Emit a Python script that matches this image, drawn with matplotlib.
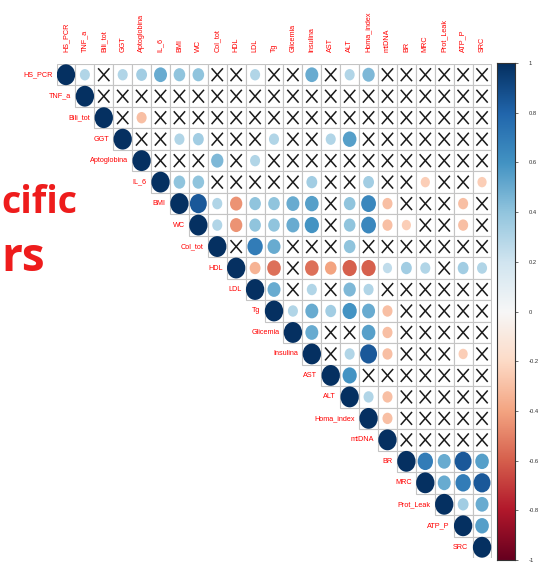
import matplotlib
matplotlib.use("Agg")
import matplotlib.pyplot as plt
from matplotlib.patches import Ellipse, Rectangle
import numpy as np

variables = ["HS_PCR", "TNF_a", "Bili_tot", "GGT", "Aptoglobina", "IL_6", "BMI", "WC",
             "Col_tot", "HDL", "LDL", "Tg", "Glicemia", "Insulina", "AST", "ALT",
             "Homa_index", "mtDNA", "BR", "MRC", "Prot_Leak", "ATP_P", "SRC"]

X = None  # non-significant cell (drawn as a cross)
# upper triangle, each row starts at the diagonal
corr_rows = [
    [1, .3, X, .3, .35, .5, .4, .4, X, X, .3, X, X, .5, X, .3, .45, X, X, X, X, X, X],
    [1] + [X] * 21,
    [1, X, -.3] + [X] * 18,
    [1, X, X, .3, .35, X, X, X, .3, X, X, .3, .55, X, X, X, X, X, X, X],
    [1, X, X, X, .45, X, .3, X] + [X] * 11,
    [1, .4, .4, X, X, X, X, X, .35, X, X, .35, X, X, -.25, X, X, -.25],
    [1, .85, .3, -.45, .4, .4, .5, .55, X, .4, .65, -.3, X, X, X, -.3, X],
    [1, .3, -.45, .4, .4, .5, .6, X, .4, .65, -.3, -.25, X, X, -.3, X],
    [1, X, .7, .5, X, X, X, .4, X] + [X] * 6,
    [1, -.35, -.55, X, -.55, -.4, -.6, -.6, .25, .35, .3, X, .35, .3],
    [1, .5, X, .3, X, .45, .3] + [X] * 6,
    [1, .3, .5, .35, .6, .5, -.3] + [X] * 5,
    [1, .5, X, X, .55, -.3] + [X] * 5,
    [1, X, .3, .85, -.3, X, X, X, -.25, X],
    [1, .6] + [X] * 7,
    [1, .3, -.3] + [X] * 5,
    [1, -.3] + [X] * 5,
    [1] + [X] * 5,
    [1, .7, .5, .85, .55],
    [1, .5, .7, .85],
    [1, .35, .5],
    [1, .55],
    [1],
]
cbar_ticks = [1, 0.8, 0.6, 0.4, 0.2, 0, -0.2, -0.4, -0.6, -0.8, -1]

W, H = 551, 565
fig = plt.figure(figsize=(W / 100, H / 100), dpi=100)
fig.patch.set_facecolor("white")
n = len(variables)
gx0, gx1, gy0, gy1 = 56.5, 491.5, 64, 558
ax = fig.add_axes([gx0 / W, 1 - gy1 / H, (gx1 - gx0) / W, (gy1 - gy0) / H])
ax.set_xlim(-0.5, n - 0.5)
ax.set_ylim(n - 0.5, -0.5)
ax.axis("off")
cmap = plt.get_cmap("RdBu")
norm = plt.Normalize(-1, 1)
label_font = dict(family=["Liberation Sans", "DejaVu Sans"], fontsize=5.2, color="red")

for i, row in enumerate(corr_rows):
    for k, v in enumerate(row):
        j = i + k
        ax.add_patch(Rectangle((j - 0.5, i - 0.5), 1, 1, facecolor="white",
                               edgecolor="#c4c4c4", lw=0.8, zorder=1))
        if v is None:
            ax.plot([j - 0.3, j + 0.3], [i - 0.3, i + 0.3], color="#1a1a1a", lw=1.1,
                    solid_capstyle="butt", zorder=3)
            ax.plot([j - 0.3, j + 0.3], [i + 0.3, i - 0.3], color="#1a1a1a", lw=1.1,
                    solid_capstyle="butt", zorder=3)
        else:
            r = 0.5 * np.sqrt(abs(v)) * 0.97
            ax.add_patch(Ellipse((j, i), 2 * r, 2 * r, facecolor=cmap(norm(v)),
                                 edgecolor="none", zorder=2))

# labels
for i, name in enumerate(variables):
    ax.text(i - 0.72, i, name, ha="right", va="center", **label_font)
    ax.text(i, -1.05, name, ha="center", va="bottom", rotation=90, **label_font)

# colorbar
cb0, cb1 = 63, 560
cax = fig.add_axes([497 / W, 1 - cb1 / H, 18 / W, (cb1 - cb0) / H])
grad = np.linspace(-1, 1, 256).reshape(-1, 1)
cax.imshow(grad, cmap=cmap, norm=norm, aspect="auto", origin="lower", extent=[0, 1, -1, 1])
cax.set_xticks([])
cax.yaxis.tick_right()
cax.set_yticks(cbar_ticks)
cax.set_yticklabels([f"{t:g}" for t in cbar_ticks], fontsize=4.2, color="#333333",
                    family="Liberation Sans")
cax.tick_params(axis="y", length=2, width=0.5, pad=8, colors="#333333")
for s in cax.spines.values():
    s.set_linewidth(0.8)
    s.set_color("#333333")

# slide background text (partially visible)
fig.text(1 / W, 1 - 213 / H, "cific", fontsize=27, fontweight="bold", color="#ee1c1c",
         family=["Open Sans", "DejaVu Sans"], ha="left", va="baseline")
fig.text(1 / W, 1 - 271 / H, "rs", fontsize=33, fontweight="bold", color="#ee1c1c",
         family=["Open Sans", "DejaVu Sans"], ha="left", va="baseline")

fig.savefig("out.png", dpi=100, facecolor="white")
